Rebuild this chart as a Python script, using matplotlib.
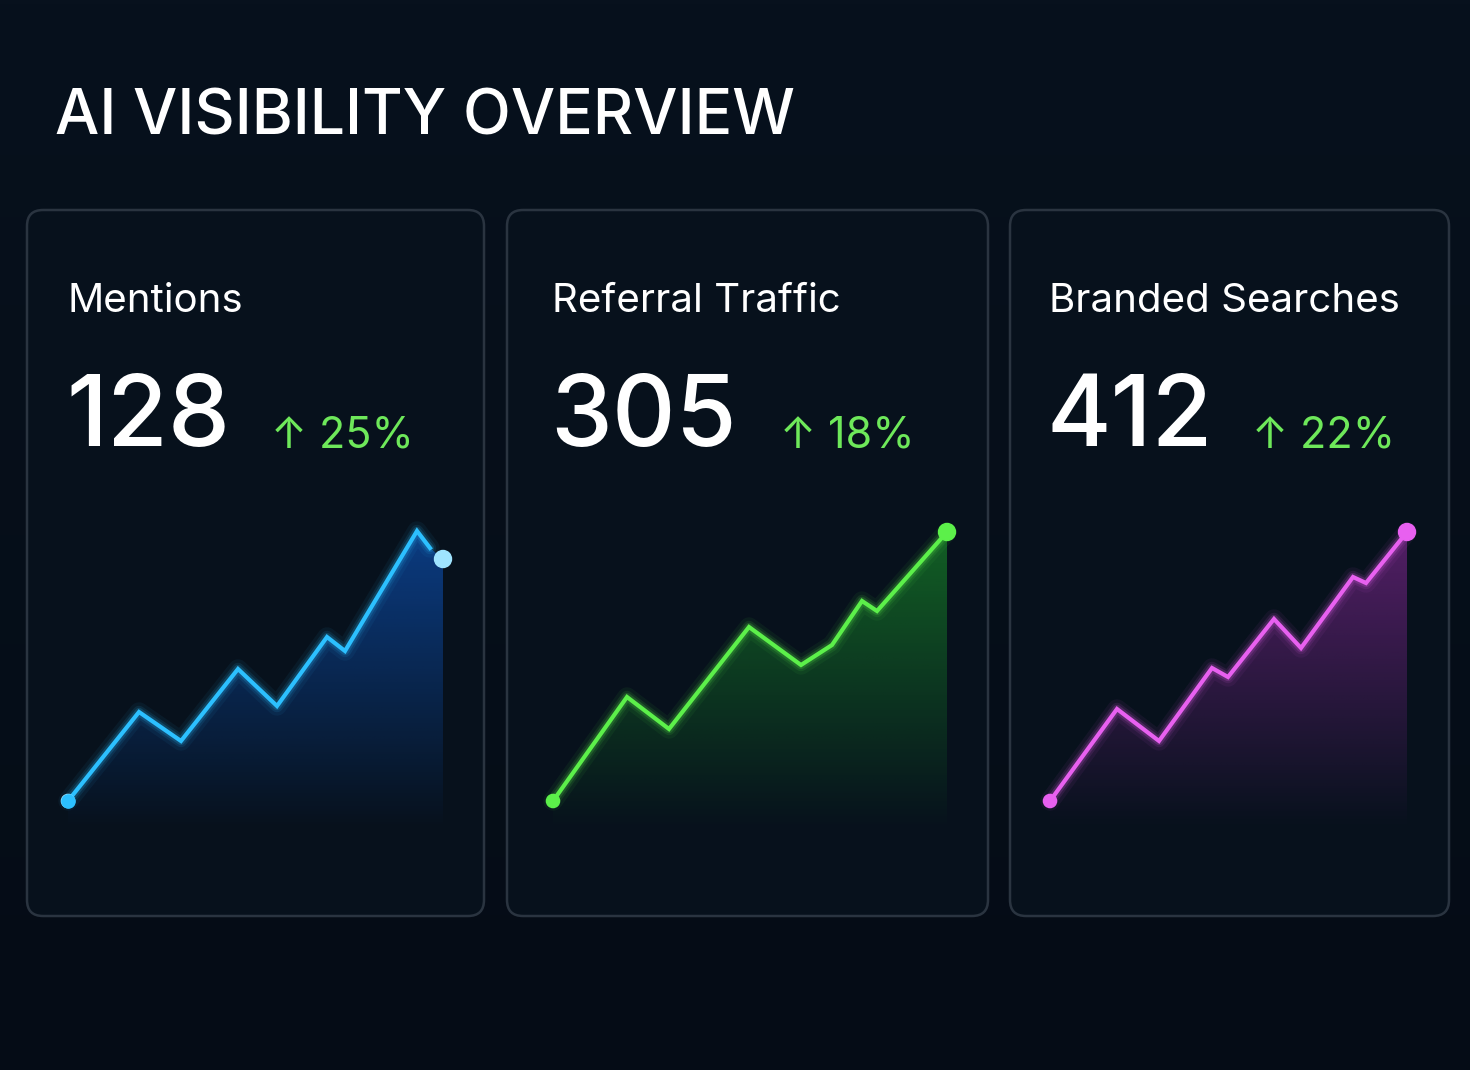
import matplotlib
matplotlib.use("Agg")
import matplotlib.pyplot as plt
import numpy as np
from matplotlib.patches import FancyBboxPatch, Polygon

titles = ["Mentions", "Referral Traffic", "Branded Searches"]
values = ["128", "305", "412"]
changes = ["↑ 25%", "↑ 18%", "↑ 22%"]
colors = ["#2cc0ff", "#5cf04a", "#e860f0"]
fills = ["#1070ff", "#20c030", "#b030c0"]
# sparkline series: (x position, value)
s1_x = [0, 71, 113, 170, 209, 259, 277, 349, 362, 375]
s1_y = [0, 89, 60, 132, 95, 164, 150, 270, 253, 242]
s2_x = [0, 74, 116, 196, 248, 279, 309, 324, 394]
s2_y = [0, 104, 72, 174, 136, 156, 200, 190, 269]
s3_x = [0, 67, 109, 162, 178, 224, 251, 303, 316, 357]
s3_y = [0, 92, 60, 133, 124, 182, 153, 224, 218, 269]
series = [(s1_x, s1_y), (s2_x, s2_y), (s3_x, s3_y)]

W, H = 1470, 1070
fig = plt.figure(figsize=(14.7, 10.7), dpi=100)
ax = fig.add_axes([0, 0, 1, 1])
ax.set_xlim(0, W); ax.set_ylim(H, 0); ax.axis("off")
bg = np.linspace(0, 1, 256).reshape(-1, 1)
ax.imshow(bg, extent=[0, W, H, 0], cmap=matplotlib.colors.LinearSegmentedColormap.from_list("b", ["#07111d", "#050c16"]), aspect="auto", zorder=0)

ax.text(55, 118, "AI VISIBILITY OVERVIEW", color="white", fontsize=45, fontweight="medium",
        va="center", ha="left", family="Inter")

cards = [(27, 484), (507, 988), (1010, 1449)]
top, bot = 210, 916
for i, (x0, x1) in enumerate(cards):
    ax.add_patch(FancyBboxPatch((x0, top), x1 - x0, bot - top, boxstyle="round,pad=0,rounding_size=16",
                                fc="#07111c", ec="#2a3440", lw=1.8, zorder=1))
    tx = x0 + 41 if i == 0 else x0 + 45 if i == 1 else x0 + 39
    ax.text(tx, 301, titles[i], color="white", fontsize=29, va="center", ha="left", family="Inter", zorder=5)
    ax.text(tx - 2, 420, values[i], color="white", fontsize=71, fontweight="medium", va="center", ha="left", family="Inter", zorder=5)
    ax.text(tx + 203 + (25 if i == 1 else 0), 436, changes[i], color="#6ee85a", fontsize=31, va="center", ha="left",
            family=["Inter", "DejaVu Sans"], zorder=5)

    xs, ys = series[i]
    ox, oy = x0 + 41 + (5 if i == 1 else 0) - (1 if i == 2 else 0), 801
    px = np.array(xs) + ox
    py = oy - np.array(ys)
    # gradient fill
    grad = np.zeros((256, 2, 4))
    c = matplotlib.colors.to_rgb(fills[i])
    grad[..., :3] = c
    grad[..., 3] = np.linspace(0.45, 0.0, 256)[:, None]
    ymin = py.min()
    im = ax.imshow(grad, extent=[px.min(), px.max(), 830, ymin], aspect="auto", zorder=2)
    poly = Polygon(np.column_stack([np.r_[px, px[-1], px[0]], np.r_[py, 830, 830]]), closed=True,
                   transform=ax.transData, fc="none", ec="none")
    ax.add_patch(poly)
    im.set_clip_path(poly)
    lx, ly = (px[:-1], py[:-1]) if i == 0 else (px, py)
    for lw, a in [(14, 0.06), (9, 0.1), (6, 0.18)]:
        ax.plot(lx, ly, color=colors[i], lw=lw, alpha=a, solid_capstyle="round", zorder=3)
    ax.plot(lx, ly, color=colors[i], lw=3, solid_joinstyle="miter", zorder=4)
    ax.scatter([px[0], px[-1]], [py[0], py[-1]], s=[90, 150], color=colors[i] if i else "#9fe4ff", zorder=5)
    if i == 0:
        ax.scatter([px[0]], [py[0]], s=90, color=colors[i], zorder=6)

fig.savefig("out.png", dpi=100, facecolor="#050c16")
